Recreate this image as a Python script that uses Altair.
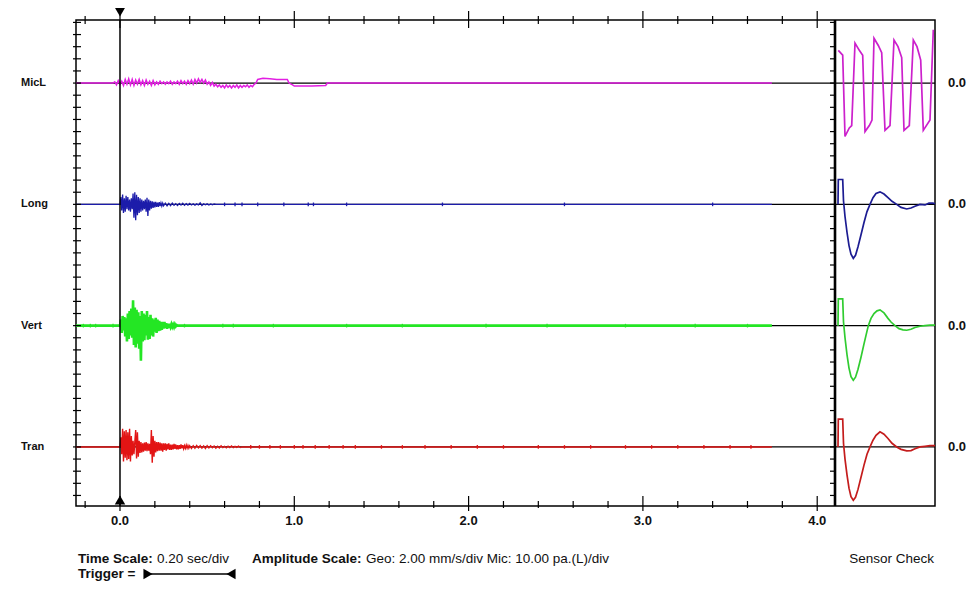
import altair as alt
import pandas as pd

# ---------------- channels ----------------
CHANNELS = ["MicL", "Long", "Vert", "Tran"]
BASELINE_DIV = [0, 10, 20, 30]            # zero line of each channel, in amplitude divisions
ZERO_LABELS = ["0.0", "0.0", "0.0", "0.0"]
TRACE_COLORS = ["#e21ee2", "#1c1caa", "#24e624", "#e21414"]
SENSOR_COLORS = ["#cc20cc", "#1c1c92", "#30cc30", "#c41c1c"]
TRACE_WIDTHS = [1.5, 1.3, 2.6, 1.4]

RECORD_END = 3.74          # s, end of recorded event
DT_FINE = 0.005            # s, sample spacing of the burst arrays
DT_COARSE = 0.01

# ---------------- event traces (amplitude in divisions, + = up) ----------------
MICL_PRE_T = [-0.252, -0.04]
MICL_PRE_A = [0.0, 0.0]
MICL_NOISE_T0 = -0.03
MICL_NOISE_A = [0.1, -0.15, 0.2, -0.1, 0.15, -0.2, 0.3, -0.1, 0.35, -0.15,
                0.3, -0.2, 0.25, -0.1, 0.3, -0.15, 0.2, -0.2, 0.25, -0.1,
                0.15, -0.2, 0.2, -0.15, 0.1, -0.1, 0.15, -0.05, 0.1, -0.1,
                0.1, -0.05, 0.15, -0.1, 0.1, -0.05, 0.15, -0.1, 0.2, -0.05,
                0.15, -0.1, 0.2, -0.05, 0.25, -0.1, 0.3, 0.0, 0.35, 0.05,
                0.3, 0.0, 0.25, -0.1, 0.1, -0.2, 0.05, -0.25, -0.1, -0.3]
MICL_SHIFT_T0 = 0.57
MICL_SHIFT_A = [-0.15, -0.35, -0.2, -0.4, -0.15, -0.35, -0.2, -0.4, -0.2, -0.35,
                -0.15, -0.4, -0.2, -0.35, -0.2, -0.3, -0.15, -0.35, -0.2, -0.3, -0.1]
MICL_TAIL_T = [0.78, 0.79, 0.82, 0.86, 0.90, 0.96, 0.97, 0.99, 1.00, 1.10, 1.18, 1.19, RECORD_END]
MICL_TAIL_A = [0.0, 0.3, 0.4, 0.35, 0.3, 0.3, 0.0, -0.15, -0.25, -0.25, -0.2, 0.0, 0.0]

LONG_PRE_T = [-0.252, 0.0]
LONG_PRE_A = [0.0, 0.0]
LONG_B1_T0 = 0.005
LONG_B1_A = [0.6, -0.5, 0.8, -0.7, 0.5, -0.6, 0.7, -0.4, 0.6, -0.5,
             0.4, -0.6, 0.5, -0.4, 0.9, -1.1, 1.0, -1.3, 0.8, -0.9,
             0.6, -0.7, 0.5, -0.6, 0.4, -0.5, 0.3, -0.4, 0.4, -0.6,
             0.55, -0.95, 0.4, -0.5, 0.3, -0.35, 0.25, -0.3, 0.2, -0.25,
             0.2, -0.2, 0.15, -0.2, 0.18, -0.15, 0.12, -0.15, 0.1, -0.12]
LONG_B2_T0 = 0.26
LONG_B2_A = [0.1, -0.12, 0.08, -0.1, 0.1, -0.08, 0.06, -0.1, 0.08, -0.06,
             0.1, -0.08, 0.06, -0.06, 0.08, -0.05, 0.05, -0.06, 0.04, -0.05,
             0.12, -0.1, 0.05, -0.04, 0.04, -0.05, 0.03, -0.03, 0.04, 0.0]
LONG_TAIL_T = [0.56, RECORD_END]
LONG_TAIL_A = [0.0, 0.0]

VERT_PRE_T = [-0.252, 0.0]
VERT_PRE_A = [0.0, 0.0]
VERT_B1_T0 = 0.005
VERT_B1_A = [0.5, -0.6, 0.8, -0.4, 0.7, -0.9, 0.6, -1.3, 1.0, -1.1,
             1.2, -0.8, 1.4, -1.0, 2.1, -1.6, 1.5, -1.8, 1.3, -1.5,
             1.1, -1.9, 0.8, -2.9, 1.2, -1.3, 1.0, -1.2, 0.9, -0.8,
             1.2, -1.15, 0.7, -1.1, 0.9, -0.8, 0.6, -0.9, 0.5, -0.5,
             0.65, -0.6, 0.5, -0.45, 0.4, -0.4, 0.3, -0.35, 0.3, -0.25,
             0.3, -0.2, 0.2, -0.25, 0.15, -0.2, 0.15, -0.1, 0.12, -0.1,
             0.08, -0.12, 0.1, -0.06, 0.05, 0.0]
VERT_TAIL_T = [0.335, RECORD_END]
VERT_TAIL_A = [0.0, 0.0]

TRAN_PRE_T = [-0.252, 0.0]
TRAN_PRE_A = [0.0, 0.0]
TRAN_B1_T0 = 0.005
TRAN_B1_A = [0.8, -0.6, 1.5, -1.2, 1.3, -0.9, 1.4, -1.1, 1.2, -1.0, 1.5, -1.2, 0.9, -0.7,
             0.5, -0.6, 0.4,
             1.4, -0.95, 1.2,
             -0.8, 0.5, -0.5, 0.4, -0.45, 0.3, -0.4, 0.35, -0.3, 0.4, -0.35, 0.3, -0.3, 0.25,
             -0.6, 1.4, -1.3, 0.9, -0.8, 0.5,
             -0.45, 0.4, -0.35, 0.4, -0.3, 0.35, -0.3, 0.3, -0.4, 0.3,
             -0.25, 0.3, -0.3, 0.25, -0.2, 0.3, -0.25, 0.2, -0.25, 0.2,
             -0.2, 0.25, -0.15, 0.2, -0.2, 0.15, -0.2, 0.15, -0.15, 0.2,
             -0.12, 0.15, -0.15, 0.1, -0.12, 0.15, -0.1, 0.12, -0.1, 0.1]
TRAN_B2_T0 = 0.41
TRAN_B2_A = [-0.12, 0.1, -0.1, 0.12, -0.08, 0.1, -0.1, 0.08, -0.12, 0.1,
             -0.08, 0.1, -0.06, 0.08, -0.1, 0.06, -0.08, 0.1, -0.06, 0.05,
             -0.08, 0.06, -0.05, 0.08, -0.06, 0.05, -0.04, 0.06, -0.05, 0.0]
TRAN_TAIL_T = [0.71, RECORD_END]
TRAN_TAIL_A = [0.0, 0.0]

# isolated small spikes along the quiet part of the record
SPIKE_AMP = 0.15
LONG_SPIKE_T = [0.60, 0.66, 0.70, 0.79, 0.94, 1.08, 1.11, 1.30, 1.85, 2.55, 3.40]
VERT_SPIKE_T = [-0.21, -0.17, -0.14, -0.04, 0.37, 0.59, 0.65, 0.88, 1.30, 1.62, 2.10,
                2.45, 2.90, 3.30, 3.60]
TRAN_SPIKE_T = [0.75, 0.80, 0.86, 0.92, 1.00, 1.05, 1.12, 1.20, 1.28, 1.35, 1.50, 1.62,
                1.75, 1.90, 2.05, 2.20, 2.40, 2.55, 2.70, 2.90, 3.05, 3.20, 3.35, 3.50, 3.62]

# ---------------- sensor check (t = 0..100 across the check window) ----------------
MICL_SC_T = [3.3, 7.7, 10.0, 14.3, 16.7, 20.0, 24.3, 27.7, 30.0, 34.3, 37.0, 39.0, 43.3,
             46.7, 50.0, 55.0, 59.0, 63.0, 66.7, 69.0, 74.3, 78.3, 82.0, 85.7, 88.3, 95.0, 98.3]
MICL_SC_A = [2.7, 2.3, -4.4, -3.7, -3.5, 3.3, 2.7, 2.3, -4.0, -3.5, -3.05, 3.7, 3.1,
             2.5, -3.9, -3.5, 3.55, 3.0, 2.1, -3.9, -3.5, 3.55, 3.0, 1.9, -3.9, -3.05, 4.4]
LONG_SC_T = [3.0, 3.3, 7.7, 8.5, 10, 12, 14, 16, 18.3, 20.5, 23, 26, 29, 32, 35, 38, 41,
             45, 49, 53, 57, 61.7, 66, 71.7, 76, 80, 85, 90, 94, 98, 100]
LONG_SC_A = [0.0, 2.05, 2.05, 0.3, -1.0, -2.3, -3.4, -4.1, -4.45, -4.2, -3.5, -2.5, -1.5,
             -0.6, 0.0, 0.55, 0.9, 1.03, 0.85, 0.55, 0.25, 0.0, -0.25, -0.38, -0.3, -0.15,
             0.0, -0.05, 0.1, 0.1, 0.05]
VERT_SC_T = [3.0, 3.3, 7.7, 8.5, 10, 12, 14, 16, 18.3, 20.5, 23, 26, 29, 31, 33.3, 36, 39,
             42, 45, 49, 53, 56, 60, 64, 68, 71.7, 76, 80, 85, 90, 95, 100]
VERT_SC_A = [0.0, 2.2, 2.2, 0.3, -1.0, -2.4, -3.5, -4.2, -4.5, -4.25, -3.6, -2.6, -1.5,
             -0.8, 0.0, 0.6, 1.0, 1.22, 1.3, 1.05, 0.6, 0.3, 0.0, -0.25, -0.35, -0.38,
             -0.3, -0.15, -0.05, 0.0, 0.05, 0.05]
TRAN_SC_T = [3.0, 3.3, 7.7, 8.5, 10, 12, 14, 16, 18.3, 20.5, 23, 26, 29, 32, 35, 38, 41,
             45, 49, 53, 57, 61.7, 66, 71.7, 76, 80, 85, 90, 95, 100]
TRAN_SC_A = [0.0, 2.3, 2.3, 0.3, -1.0, -2.3, -3.4, -4.1, -4.4, -4.15, -3.5, -2.5, -1.5,
             -0.6, 0.0, 0.55, 0.95, 1.25, 1.05, 0.7, 0.3, 0.0, -0.2, -0.33, -0.3, -0.15,
             0.0, 0.05, 0.1, 0.1]

# ---------------- axes ----------------
X_MAJOR = [0.0, 1.0, 2.0, 3.0, 4.0]
X_MINOR = [-0.2, 0.2, 0.4, 0.6, 0.8, 1.2, 1.4, 1.6, 1.8, 2.2, 2.4, 2.6, 2.8,
           3.2, 3.4, 3.6, 3.8]
Y_TICKS = list(range(-5, 35))   # one tick per amplitude division

BOTTOM_TEXTS = ["Time Scale:", "0.20 sec/div", "Amplitude Scale:",
                "Geo: 2.00 mm/s/div Mic: 10.00 pa.(L)/div"]
BOTTOM_WEIGHTS = ["bold", "normal", "bold", "normal"]
TRIGGER_TEXT = "Trigger ="
SENSOR_TEXT = "Sensor Check"

# ---------------- layout ----------------
W, H = 859, 486
FONT = "Liberation Sans"
XS = alt.Scale(domain=[-0.2524, 4.6758], nice=False, zero=False)
YS = alt.Scale(domain=[-5.2, 34.87], reverse=True, nice=False, zero=False)
SENSOR_X0 = 4.1021      # left border of sensor panel (in event seconds)
SENSOR_DX = 0.005737    # width of one sensor-window unit (in event seconds)
BOTTOM_X = [2, 81, 176, 290]
FOOT_FS = 13.5
FOOT_Y1, FOOT_Y2 = 543, 558
LEG_Y = 554


def grid(t0, dt, amps):
    return [round(t0 + i * dt, 4) for i in range(len(amps))]


series = {
    "MicL": (MICL_PRE_T + grid(MICL_NOISE_T0, DT_COARSE, MICL_NOISE_A)
             + grid(MICL_SHIFT_T0, DT_COARSE, MICL_SHIFT_A) + MICL_TAIL_T,
             MICL_PRE_A + MICL_NOISE_A + MICL_SHIFT_A + MICL_TAIL_A),
    "Long": (LONG_PRE_T + grid(LONG_B1_T0, DT_FINE, LONG_B1_A)
             + grid(LONG_B2_T0, DT_COARSE, LONG_B2_A) + LONG_TAIL_T,
             LONG_PRE_A + LONG_B1_A + LONG_B2_A + LONG_TAIL_A),
    "Vert": (VERT_PRE_T + grid(VERT_B1_T0, DT_FINE, VERT_B1_A) + VERT_TAIL_T,
             VERT_PRE_A + VERT_B1_A + VERT_TAIL_A),
    "Tran": (TRAN_PRE_T + grid(TRAN_B1_T0, DT_FINE, TRAN_B1_A)
             + grid(TRAN_B2_T0, DT_COARSE, TRAN_B2_A) + TRAN_TAIL_T,
             TRAN_PRE_A + TRAN_B1_A + TRAN_B2_A + TRAN_TAIL_A),
}
sensor = {
    "MicL": (MICL_SC_T, MICL_SC_A),
    "Long": (LONG_SC_T, LONG_SC_A),
    "Vert": (VERT_SC_T, VERT_SC_A),
    "Tran": (TRAN_SC_T, TRAN_SC_A),
}
spikes = {"Long": LONG_SPIKE_T, "Vert": VERT_SPIKE_T, "Tran": TRAN_SPIKE_T}

X = lambda f: alt.X(f, scale=XS, axis=None)
Y = lambda f: alt.Y(f, scale=YS, axis=None)

layers = []

# channel zero lines (black, full width incl. sensor panel)
base_df = pd.DataFrame({"ch": CHANNELS, "b": BASELINE_DIV})
layers.append(alt.Chart(base_df).mark_rule(color="black", strokeWidth=1.2).encode(
    y=Y("b:Q"), x=alt.value(0), x2=alt.value(W)))

for ch, b, col, scol, w in zip(CHANNELS, BASELINE_DIV, TRACE_COLORS, SENSOR_COLORS, TRACE_WIDTHS):
    ts, amps = series[ch]
    df = pd.DataFrame({"t": ts, "y": [b - a for a in amps], "i": range(len(ts))})
    layers.append(alt.Chart(df).mark_line(color=col, strokeWidth=w).encode(
        x=X("t:Q"), y=Y("y:Q"), order="i:Q"))
    if ch in spikes:
        sdf = pd.DataFrame({"t": spikes[ch]})
        sdf["y1"] = b - SPIKE_AMP
        sdf["y2"] = b + SPIKE_AMP
        layers.append(alt.Chart(sdf).mark_rule(color=col, strokeWidth=1.3).encode(
            x=X("t:Q"), y=Y("y1:Q"), y2="y2:Q"))
    st, sa = sensor[ch]
    sc = pd.DataFrame({"t": st, "a": sa, "i": range(len(st))})
    sc["x"] = SENSOR_X0 + sc["t"] * SENSOR_DX
    sc["y"] = b - sc["a"]
    layers.append(alt.Chart(sc).mark_line(color=scol, strokeWidth=1.7).encode(
        x=X("x:Q"), y=Y("y:Q"), order="i:Q"))

# trigger line + markers
trig = pd.DataFrame({"t": [0.0]})
layers.append(alt.Chart(trig).mark_rule(color="black", strokeWidth=1.5).encode(
    x=X("t:Q"), y=alt.value(0), y2=alt.value(H)))
layers.append(alt.Chart(trig).mark_point(shape="triangle-down", filled=True, color="black",
                                         size=110, opacity=1).encode(x=X("t:Q"), y=alt.value(-8)))
layers.append(alt.Chart(trig).mark_point(shape="triangle-up", filled=True, color="black",
                                         size=110, opacity=1).encode(x=X("t:Q"), y=alt.value(H - 6)))

# sensor panel border
sb = pd.DataFrame({"t": [SENSOR_X0]})
layers.append(alt.Chart(sb).mark_rule(color="black", strokeWidth=2.6).encode(
    x=X("t:Q"), y=alt.value(0), y2=alt.value(H)))

# time ticks top and bottom
minor = pd.DataFrame({"t": X_MINOR})
major = pd.DataFrame({"t": X_MAJOR, "lab": [f"{v:.1f}" for v in X_MAJOR]})
for df, (a, b) in [(minor, (-4, 4)), (major, (-9, 8)), (minor, (H - 5, H + 2)), (major, (H - 10, H + 5))]:
    layers.append(alt.Chart(df).mark_rule(color="black", strokeWidth=1.2).encode(
        x=X("t:Q"), y=alt.value(a), y2=alt.value(b)))
layers.append(alt.Chart(major).mark_text(font=FONT, fontSize=13, fontWeight="bold",
                                         baseline="alphabetic", align="center", color="#111").encode(
    x=X("t:Q"), y=alt.value(505), text="lab:N"))

# amplitude ticks on left axis and sensor border
yt = pd.DataFrame({"d": Y_TICKS})
for a, b in [(-3, 5), (754, 760)]:
    layers.append(alt.Chart(yt).mark_rule(color="black", strokeWidth=1.2).encode(
        y=Y("d:Q"), x=alt.value(a), x2=alt.value(b)))

# channel names + zero values
lab = pd.DataFrame({"ch": CHANNELS, "b": BASELINE_DIV, "z": ZERO_LABELS})
layers.append(alt.Chart(lab).mark_text(font=FONT, fontSize=11, fontWeight="bold", align="left",
                                       baseline="middle", color="#111").encode(
    x=alt.value(-55), y=Y("b:Q"), text="ch:N"))
layers.append(alt.Chart(lab).mark_text(font=FONT, fontSize=13, fontWeight="bold", align="left",
                                       baseline="middle", color="#111").encode(
    x=alt.value(872), y=Y("b:Q"), text="z:N"))

# footer text
for txt, wt, xp in zip(BOTTOM_TEXTS, BOTTOM_WEIGHTS, BOTTOM_X):
    layers.append(alt.Chart(pd.DataFrame({"s": [txt]})).mark_text(
        font=FONT, fontSize=FOOT_FS, fontWeight=wt, align="left", baseline="alphabetic",
        color="#111").encode(x=alt.value(xp), y=alt.value(FOOT_Y1), text="s:N"))
layers.append(alt.Chart(pd.DataFrame({"s": [TRIGGER_TEXT]})).mark_text(
    font=FONT, fontSize=FOOT_FS, fontWeight="bold", align="left", baseline="alphabetic",
    color="#111").encode(x=alt.value(2), y=alt.value(FOOT_Y2), text="s:N"))
layers.append(alt.Chart(pd.DataFrame({"s": [SENSOR_TEXT]})).mark_text(
    font=FONT, fontSize=FOOT_FS, align="right", baseline="alphabetic",
    color="#111").encode(x=alt.value(858), y=alt.value(FOOT_Y1), text="s:N"))

# trigger legend symbol
one = pd.DataFrame({"k": [0]})
layers.append(alt.Chart(one).mark_rule(color="black", strokeWidth=1.3).encode(
    x=alt.value(72), x2=alt.value(154), y=alt.value(LEG_Y)))
layers.append(alt.Chart(one).mark_point(shape="triangle-right", filled=True, color="black",
                                        size=110, opacity=1).encode(x=alt.value(72), y=alt.value(LEG_Y)))
layers.append(alt.Chart(one).mark_point(shape="triangle-left", filled=True, color="black",
                                        size=110, opacity=1).encode(x=alt.value(155), y=alt.value(LEG_Y)))

chart = alt.layer(*layers).properties(
    width=W, height=H,
    autosize=alt.AutoSizeParams(type="none"),
    padding={"left": 68, "top": 12, "right": 32, "bottom": 76},
    background="white",
).configure_view(stroke="black", strokeWidth=1.5)

chart.save("out.html", embed_options={"renderer": "svg", "actions": False})
